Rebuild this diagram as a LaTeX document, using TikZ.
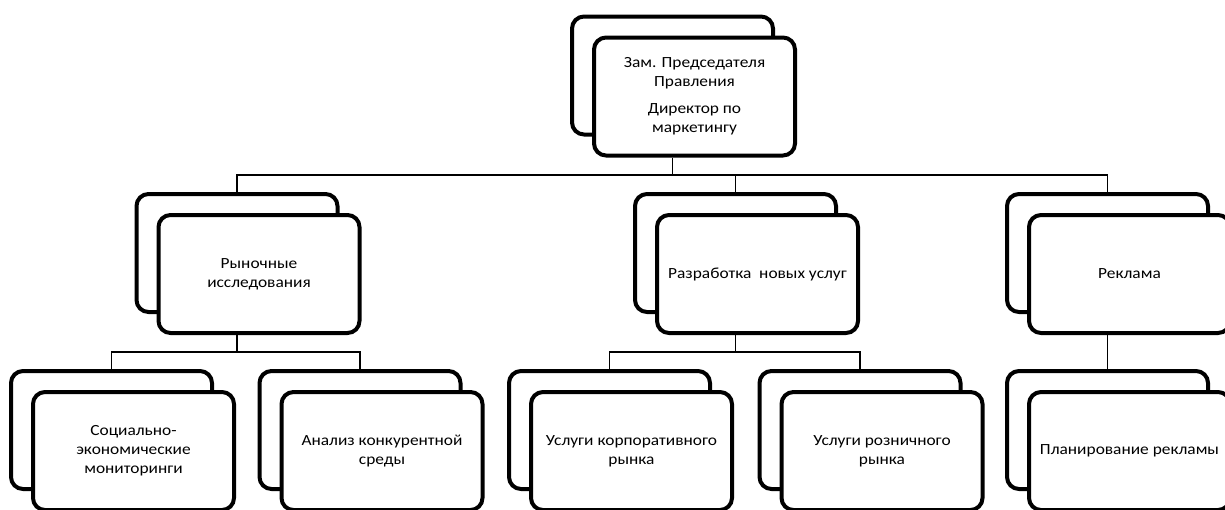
\documentclass[tikz,border=0pt]{standalone}
\usepackage{fontspec}
\setmainfont{Carlito}[FakeStretch=1.12]
\tikzset{
  bk/.style={draw=black, line width=4pt, rounded corners=12pt, fill=white,
    minimum width=201pt, minimum height=118pt, inner sep=0pt},
  fr/.style={bk, align=center, font=\fontsize{15.5}{19}\selectfont},
  conn/.style={draw=black, line width=1.2pt}
}
\begin{document}
\begin{tikzpicture}[x=1pt,y=-1pt]
\useasboundingbox (0,0) rectangle (1225,509);
% top
\node[bk] (topB) at (672.5,75.5) {};
\node[fr] (topF) at (694.5,96.5) {Зам. Председателя\\Правления\\[8pt]Директор по\\маркетингу};
% level 2
\node[bk] (aB) at (237,253) {};
\node[fr] (aF) at (259,274) {Рыночные\\исследования};
\node[bk] (bB) at (735.5,253) {};
\node[fr] (bF) at (757.5,274) {Разработка\ \ новых услуг};
\node[bk] (cB) at (1107.5,253) {};
\node[fr] (cF) at (1129.5,274) {Реклама};
% level 3
\node[bk] (a1B) at (111.5,430) {};
\node[fr] (a1F) at (133.5,451) {Социально-\\экономические\\мониторинги};
\node[bk] (a2B) at (360,430) {};
\node[fr] (a2F) at (382,451) {Анализ конкурентной\\среды};
\node[bk] (b1B) at (609.5,430) {};
\node[fr] (b1F) at (631.5,451) {Услуги корпоративного\\рынка};
\node[bk] (b2B) at (860,430) {};
\node[fr] (b2F) at (882,451) {Услуги розничного\\рынка};
\node[bk] (c1B) at (1107.5,430) {};
\node[fr] (c1F) at (1129.5,451) {Планирование рекламы};
% buses
\coordinate (bus1) at (0,175);
\coordinate (bus2) at (0,352);
\draw[conn] (topF.south -| topB) -- (topB |- bus1);
\draw[conn] (aB.north) -- (aB |- bus1) -- (cB |- bus1) -- (cB.north);
\draw[conn] (bB.north) -- (bB |- bus1);
\draw[conn] (aF.south -| aB) -- (aB |- bus2);
\draw[conn] (a1B.north) -- (a1B |- bus2) -- (a2B |- bus2) -- (a2B.north);
\draw[conn] (bF.south -| bB) -- (bB |- bus2);
\draw[conn] (b1B.north) -- (b1B |- bus2) -- (b2B |- bus2) -- (b2B.north);
\draw[conn] (cF.south -| cB) -- (c1B.north);
\end{tikzpicture}
\end{document}
